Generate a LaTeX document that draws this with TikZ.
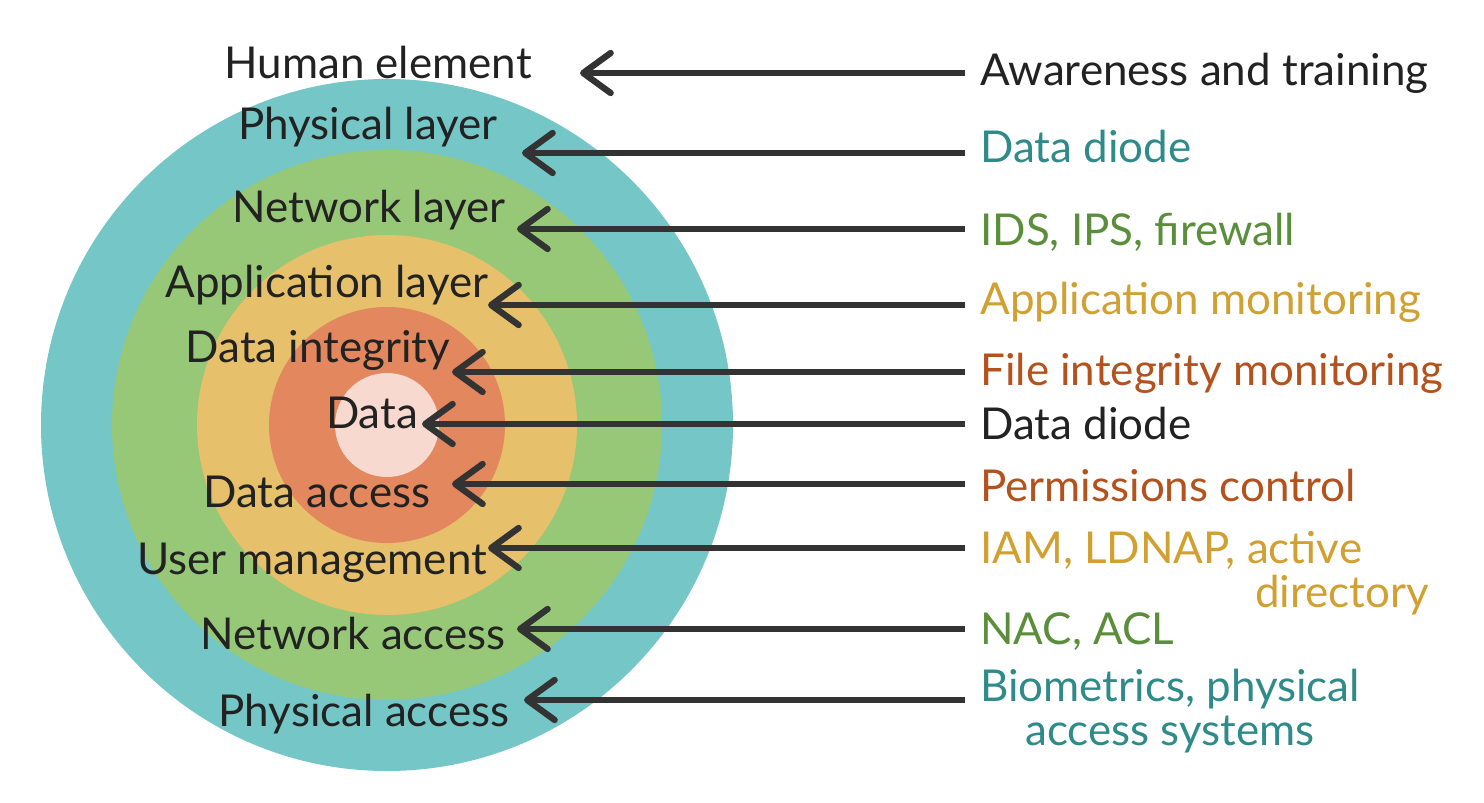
\documentclass[tikz,border=0pt]{standalone}
\usepackage{fontspec}
\setmainfont{Lato}
\usetikzlibrary{arrows.meta}
\definecolor{ringteal}{HTML}{75C6C6}
\definecolor{ringgreen}{HTML}{97C877}
\definecolor{ringyellow}{HTML}{E6C06A}
\definecolor{ringorange}{HTML}{E3875E}
\definecolor{ringpink}{HTML}{F7D9CF}
\definecolor{txtdark}{HTML}{222222}
\definecolor{txtteal}{HTML}{2E8B8A}
\definecolor{txtgreen}{HTML}{5B8E3A}
\definecolor{txtgold}{HTML}{D1A030}
\definecolor{txtorange}{HTML}{B4521E}
\definecolor{arrgray}{HTML}{333333}

\begin{document}
\begin{tikzpicture}[x=0.02cm, y=0.02cm, every node/.style={font=\fontsize{25}{25}\selectfont, text=txtdark, inner sep=0pt}, lab/.style={anchor=west, inner xsep=0.3cm}, arr/.style={draw=arrgray, line width=3.6pt, -{Straight Barb[length=0.55cm, width=0.8cm, round]}}]
	\fill[white] (0,0) rectangle (1484,802);
	\useasboundingbox (0,0) rectangle (1484,802);
	% rings of the onion
	\foreach \r/\c in {346/ringteal, 275/ringgreen, 190/ringyellow, 118/ringorange, 52/ringpink} {\fill[\c] (387,377) circle[radius=\r];}
	% layers
	\node (hum) at (378,739) {Human element}; \node (phl) at (368,675) {Physical layer}; \node (nwl) at (369,592) {Network layer}; \node (apl) at (327,517) {Application layer}; \node (din) at (318,452) {Data integrity};
	\node (dat) at (372,389) {Data}; \node (dac) at (317,310) {Data access}; \node (usm) at (312,239) {User management}; \node (nwa) at (353,169) {Network access}; \node (pha) at (364,88) {Physical access};
	% controls
	\node[lab] (awa) at (965,729) {Awareness and training};
	\node[lab, text=txtteal] (dd1) at (965,655) {Data diode};
	\node[lab, text=txtgreen] (ids) at (965,570) {IDS, IPS, firewall};
	\node[lab, text=txtgold] (apm) at (965,500) {Application monitoring};
	\node[lab, text=txtorange] (fim) at (965,429) {File integrity monitoring};
	\node[lab] (dd2) at (965,378) {Data diode};
	\node[lab, text=txtorange] (prm) at (965,317) {Permissions control};
	\node[lab, text=txtgold, align=left] (iam) at (965,229) {IAM, LDNAP, active\\ \hspace*{5.5cm}directory};
	\node[lab, text=txtgreen] (nac) at (965,170) {NAC, ACL};
	\node[lab, text=txtteal, align=center] (bio) at (965,91) {Biometrics, physical\\ access systems};
	% arrow tips
	\foreach \n/\x/\y in {t1/580/729, t2/522/649, t3/517/573, t4/488/497, t5/452/430, t6/422/378, t7/452/318, t8/488/254, t9/517/173, t10/524/102} {\coordinate (\n) at (\x,\y);}
	\foreach \a/\b in {awa/t1, dd1/t2, ids/t3, apm/t4, fim/t5, dd2/t6, prm/t7, iam/t8, nac/t9, bio/t10} {\draw[arr] (\a.west |- \b) -- (\b);}
\end{tikzpicture}
\end{document}
